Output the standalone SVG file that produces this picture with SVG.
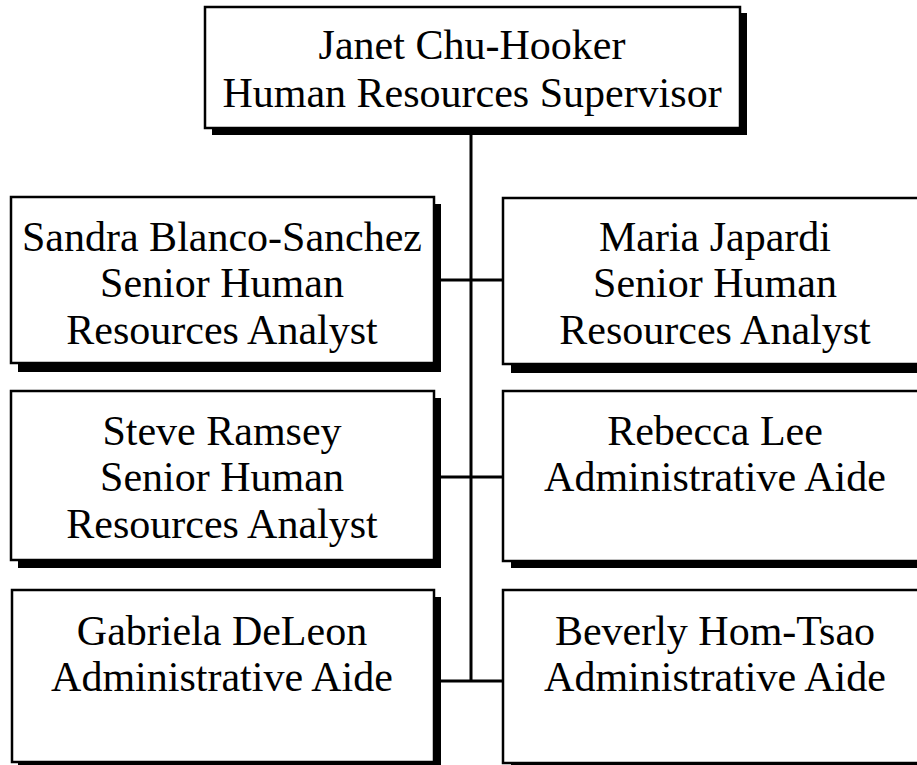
<svg xmlns="http://www.w3.org/2000/svg" width="917" height="765" viewBox="0 0 917 765">
<style>
.shadow{fill:#000}
.box{fill:#fff;stroke:#000;stroke-width:2.5}
.t{font-family:"Liberation Serif","Times New Roman",serif;font-size:42px;fill:#000;text-anchor:middle}
.c{stroke:#000;stroke-width:3;fill:none}
</style>
<rect width="917" height="765" fill="#fff"/>
<g id="connectors">
<line class="c" x1="471" y1="128" x2="471" y2="682"/>
<line class="c" x1="440" y1="280" x2="504" y2="280"/>
<line class="c" x1="440" y1="477" x2="504" y2="477"/>
<line class="c" x1="440" y1="681" x2="504" y2="681"/>
</g>
<g id="n-janet">
<rect class="shadow" x="212" y="13" width="535" height="122"/>
<rect class="box" x="205" y="7" width="535" height="121"/>
<text class="t" x="472" y="59">Janet Chu-Hooker</text>
<text class="t" x="472" y="107">Human Resources Supervisor</text>
</g>
<g id="n-sandra">
<rect class="shadow" x="18" y="204" width="423" height="168"/>
<rect class="box" x="11" y="197" width="423" height="166"/>
<text class="t" x="222" y="251">Sandra Blanco-Sanchez</text>
<text class="t" x="222" y="297">Senior Human</text>
<text class="t" x="222" y="344">Resources Analyst</text>
</g>
<g id="n-maria">
<rect class="shadow" x="511" y="205" width="430" height="168"/>
<rect class="box" x="503" y="198" width="430" height="166"/>
<text class="t" x="715" y="251">Maria Japardi</text>
<text class="t" x="715" y="297">Senior Human</text>
<text class="t" x="715" y="344">Resources Analyst</text>
</g>
<g id="n-steve">
<rect class="shadow" x="18" y="398" width="423" height="170"/>
<rect class="box" x="11" y="391" width="423" height="169"/>
<text class="t" x="222" y="445">Steve Ramsey</text>
<text class="t" x="222" y="491">Senior Human</text>
<text class="t" x="222" y="538">Resources Analyst</text>
</g>
<g id="n-rebecca">
<rect class="shadow" x="511" y="398" width="430" height="170"/>
<rect class="box" x="503" y="391" width="430" height="170"/>
<text class="t" x="715" y="445">Rebecca Lee</text>
<text class="t" x="715" y="491">Administrative Aide</text>
</g>
<g id="n-gabriela">
<rect class="shadow" x="18" y="597" width="423" height="175"/>
<rect class="box" x="12" y="590" width="422" height="172"/>
<text class="t" x="222" y="645">Gabriela DeLeon</text>
<text class="t" x="222" y="691">Administrative Aide</text>
</g>
<g id="n-beverly">
<rect class="shadow" x="511" y="597" width="430" height="175"/>
<rect class="box" x="503" y="590" width="430" height="173"/>
<text class="t" x="715" y="645">Beverly Hom-Tsao</text>
<text class="t" x="715" y="691">Administrative Aide</text>
</g>
</svg>
